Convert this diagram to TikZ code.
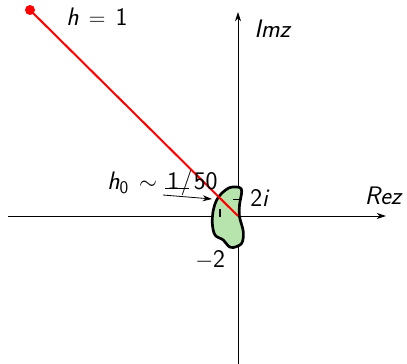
\documentclass[tikz,border=0pt]{standalone}
\usetikzlibrary{arrows.meta}
\begin{document}
\begin{tikzpicture}[x=0.75pt,y=-0.75pt,
  axis/.style={line width=0.6pt,-{Stealth[length=7pt,width=4.5pt]}},
  lbl/.style={font=\fontsize{19}{23}\selectfont\sffamily, inner sep=0pt, anchor=base west}]
\definecolor{blobgreen}{RGB}{183,228,172}
\useasboundingbox (0,0) rectangle (407,364);
% axes
\coordinate (xs) at (8,216);
\coordinate (xe) at (386,216);
\coordinate (ys) at (238,364);
\coordinate (ye) at (238,12);
\draw[axis] (xs) -- (xe);
\draw[axis] (ys) -- (ye);
% region
\draw[line width=2pt, fill=blobgreen, line join=round] plot[smooth cycle, tension=0.55] coordinates {
 (230,187.5) (239.5,187.5) (241.7,191.7) (239.5,205) (239.5,216.7) (243.3,231.7) (241.7,243.3)
 (233.3,247.5) (228.3,246) (223.3,240) (215,235) (212.3,223.3) (213.3,210) (216.7,200) (221.7,193.3)};
% ticks
\coordinate (t1a) at (233,199.5);
\coordinate (t1b) at (242,199.5);
\coordinate (t2a) at (220,209);
\coordinate (t2b) at (220,217);
\draw[line width=0.8pt] (t1a) -- (t1b);
\draw[line width=0.8pt] (t2a) -- (t2b);
% red ray
\node[circle, fill=red, inner sep=0pt, minimum size=7.5pt] (p) at (30,10) {};
\coordinate (o) at (238,216);
\draw[red, line width=1.5pt] (p.center) -- (o);
% labels
\node[lbl] (h1) at (66,26) {$\mbox{\textit{h}}\,=\,\mbox{1}$};
\node[lbl] (im) at (254,37) {\textit{Imz}};
\node[lbl, anchor=base east] (re) at (403,204) {\textit{Rez}};
\node[lbl] (two) at (250,206) {2\textit{i}};
\node[lbl] (m2) at (195,267) {$-$2};
\node[lbl] (h0) at (107,189) {$\mbox{\textit{h}\textsubscript{0}}\,\sim\,\mbox{1\kern1pt/\kern1pt50}$};
% arrow
\coordinate (us) at (165,188.5);
\coordinate (ue) at (189,188.5);
\draw[line width=0.6pt] (us) -- (ue);
\coordinate (as) at (163,195);
\coordinate (ae) at (212,199);
\draw[line width=0.6pt,-{Stealth[length=7pt,width=4.5pt]}] (as) -- (ae);
\end{tikzpicture}
\end{document}
